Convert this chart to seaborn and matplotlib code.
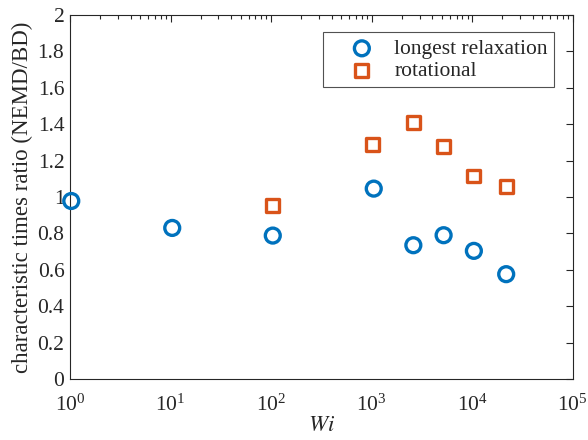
import numpy as np
import pandas as pd
import matplotlib
matplotlib.use("Agg")
import matplotlib.pyplot as plt
import seaborn as sns
from matplotlib.ticker import LogLocator, FixedLocator

# Data
wi_relax = [1.03, 10.4, 104, 1050, 2600, 5200, 10400, 21800]
ratio_relax = [0.978, 0.830, 0.788, 1.046, 0.735, 0.790, 0.704, 0.576]
wi_rot = [104, 1020, 2600, 5200, 10400, 21800]
ratio_rot = [0.955, 1.287, 1.408, 1.279, 1.115, 1.059]
series_names = ["longest relaxation", "rotational"]
yticks = [0, 0.2, 0.4, 0.6, 0.8, 1, 1.2, 1.4, 1.6, 1.8, 2]
ytick_labels = ["0", "0.2", "0.4", "0.6", "0.8", "1", "1.2", "1.4", "1.6", "1.8", "2"]

df = pd.DataFrame({
    "Wi": wi_relax + wi_rot,
    "ratio": ratio_relax + ratio_rot,
    "series": [series_names[0]] * len(wi_relax) + [series_names[1]] * len(wi_rot),
})

sns.set_style("white")
plt.rcParams["font.family"] = ["Liberation Serif", "DejaVu Serif"]
plt.rcParams["mathtext.fontset"] = "stix"

fig = plt.figure(figsize=(5.88, 4.40), dpi=100)
ax = fig.add_axes([0.119, 0.1386, 0.974 - 0.119, 0.966 - 0.1386])

palette = {series_names[0]: "#0072BD", series_names[1]: "#D95319"}
markers = {series_names[0]: "o", series_names[1]: "s"}
for name in series_names:
    sub = df[df.series == name]
    sns.scatterplot(data=sub, x="Wi", y="ratio", ax=ax, color="none",
                    edgecolor=palette[name], marker=markers[name],
                    s=115 if name == series_names[0] else 85,
                    linewidth=2.4, label=name, zorder=3, clip_on=False)

ax.set_xscale("log")
ax.set_xlim(1, 1e5)
ax.set_ylim(0, 2)
ax.yaxis.set_major_locator(FixedLocator(yticks))
ax.set_yticklabels(ytick_labels)
ax.xaxis.set_major_locator(LogLocator(base=10, numticks=10))
ax.xaxis.set_minor_locator(LogLocator(base=10, subs=np.arange(2, 10), numticks=20))

ax.tick_params(axis="both", which="both", direction="in", top=True, right=True,
               labelsize=15.5, colors="#262626", width=0.8)
ax.tick_params(axis="both", which="major", length=5)
ax.tick_params(axis="x", which="minor", length=3)
ax.tick_params(axis="y", which="major", pad=4)
ax.tick_params(axis="x", which="major", pad=11)
for sp in ax.spines.values():
    sp.set_visible(True)
    sp.set_color("#262626")
    sp.set_linewidth(0.8)

ax.set_xlabel("$\\mathit{Wi}$", fontsize=16.5, labelpad=0)
ax.set_ylabel("characteristic times ratio (NEMD/BD)", fontsize=16.5, labelpad=3)

leg = ax.legend(loc="upper right", bbox_to_anchor=(0.963, 0.952), fontsize=15.5,
                frameon=True, fancybox=False, edgecolor="#262626",
                borderpad=0.3, handletextpad=0.0, labelspacing=0.08,
                handlelength=3.0, borderaxespad=0)
leg.get_frame().set_linewidth(0.8)

fig.savefig("out.png", dpi=100, facecolor="white")
